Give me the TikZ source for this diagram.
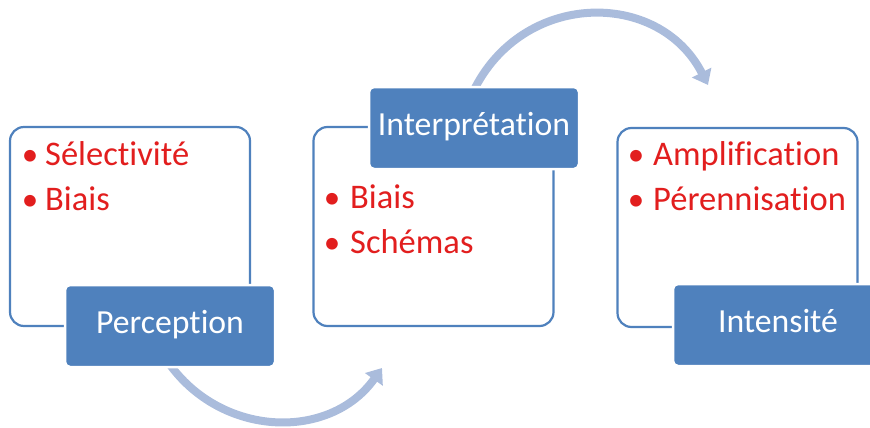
\documentclass[tikz,border=0pt]{standalone}
\usepackage{fontspec}
\setmainfont[Ligatures={NoCommon,NoRare,NoContextual}]{Carlito}
\usetikzlibrary{arrows.meta}
\definecolor{hdblue}{RGB}{79,129,189}
\definecolor{arrowblue}{RGB}{170,188,220}
\definecolor{itemred}{RGB}{226,30,30}
\begin{document}
\begin{tikzpicture}[x=1pt,y=-1pt,
  panel/.style={draw=hdblue,line width=2.2pt,fill=white,rounded corners=14pt,inner sep=0pt,minimum width=240pt,minimum height=199pt},
  header/.style={fill=hdblue,draw=white,line width=2.5pt,rounded corners=5pt,text=white,inner sep=0pt,minimum width=210pt,minimum height=82pt,text height=22pt,text depth=7pt,font=\fontsize{33.7}{40}\selectfont},
  item/.style={text=itemred,inner sep=0pt,anchor=base west,font=\fontsize{34.5}{40}\selectfont},
  bul/.style={text=itemred,inner sep=0pt,anchor=base,font=\fontsize{33}{40}\selectfont},
  flow/.style={draw=arrowblue,line width=8pt,-{Triangle[width=21pt,length=14pt]}}]
\useasboundingbox (0,0) rectangle (870,428);
% arrow end points
\coordinate (b1) at (168,362);
\coordinate (b2) at (382,368);
\coordinate (t1) at (473,92);
\coordinate (t2) at (708,85);
\draw[flow] (b1) .. controls (221,438) and (330,441) .. (b2);
\draw[flow] (t1) .. controls (522,-10) and (659,-11) .. (t2);
% panels
\node[panel] (p1) at (130,226.5) {};
\node[panel] (p2) at (433.5,226.5) {};
\node[panel] (p3) at (737.5,227.5) {};
% headers
\node[header] (h1) at (170,326) {Perception};
\node[header] (h2) at (474,128) {Interprétation};
\node[header] (h3) at (778,325) {Intensité};
% items
\node[bul] (b11) at (30,165) {•};
\node[item] (i11) at (45,165) {Sélectivité};
\node[bul] (b12) at (30,210) {•};
\node[item] (i12) at (45,210) {Biais};
\node[bul] (b21) at (332,208) {•};
\node[item] (i21) at (350,208) {Biais};
\node[bul] (b22) at (332,253) {•};
\node[item] (i22) at (350,253) {Schémas};
\node[bul] (b31) at (636,165) {•};
\node[item] (i31) at (653,165) {Amplification};
\node[bul] (b32) at (636,210) {•};
\node[item] (i32) at (653,210) {Pérennisation};
\end{tikzpicture}
\end{document}
